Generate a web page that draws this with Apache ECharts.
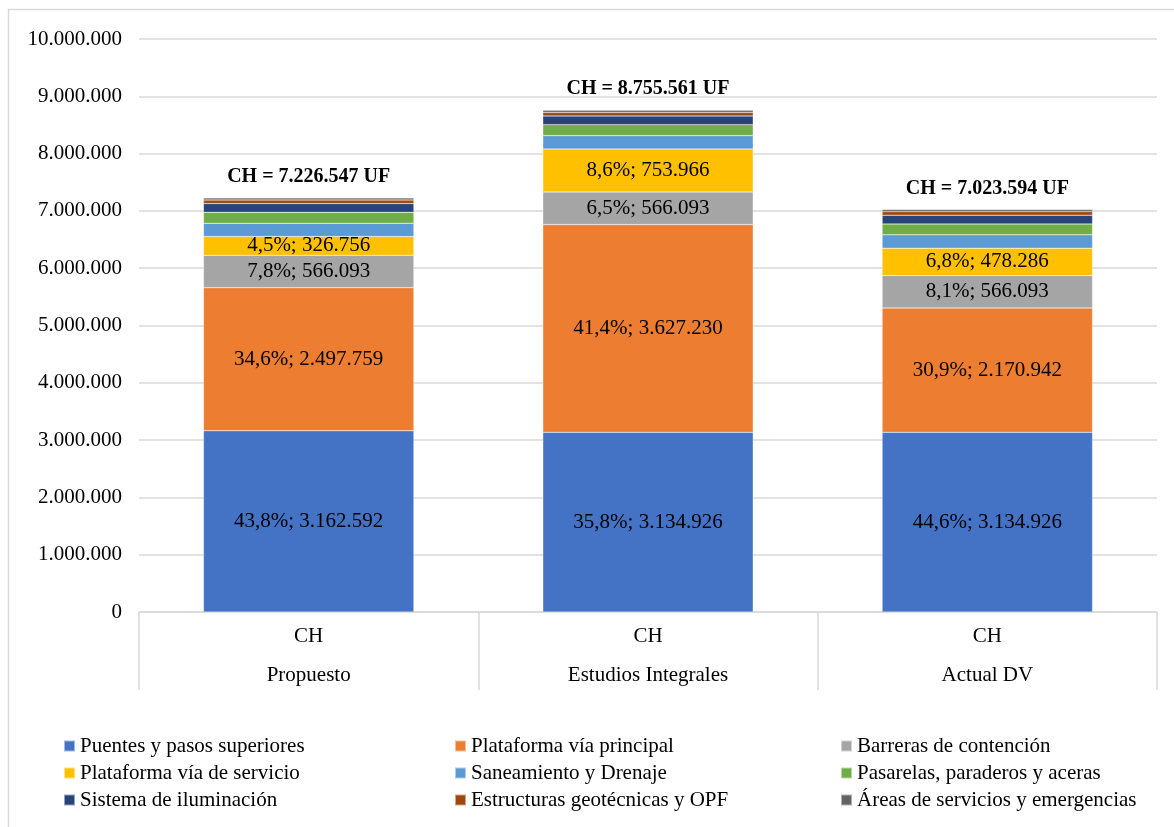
<!DOCTYPE html>
<html lang="es">
<head>
    <meta charset="UTF-8">
    <title>Costo por alternativa</title>
    <style>
        html, body { margin: 0; padding: 0; background: #fff; }
        #main { width: 1174px; height: 827px; }
    </style>
    <script src="https://cdn.jsdelivr.net/npm/echarts@6/dist/echarts.min.js"></script>
</head>
<body>
<div id="main"></div>
<script type="text/javascript">
    // categorias (dos niveles: CH / alternativa)
    var grupos = ['Propuesto', 'Estudios Integrales', 'Actual DV'];
    var totales = [7226547, 8755561, 7023594];

    var puentes      = [3162592, 3134926, 3134926];
    var platPrincipal = [2497759, 3627230, 2170942];
    var barreras     = [566093, 566093, 566093];
    var platServicio = [326756, 753966, 478286];
    var saneamiento  = [232000, 232000, 232000];
    var pasarelas    = [190000, 190000, 190000];
    var iluminacion  = [153000, 153000, 153000];
    var geotecnicas  = [62000, 62000, 62000];
    var areas        = [36347, 36347, 36347];

    var yTicks = [0, 1000000, 2000000, 3000000, 4000000, 5000000, 6000000, 7000000, 8000000, 9000000, 10000000];

    var fuente = '"Liberation Serif", "Times New Roman", serif';

    function miles(n) {
        return String(Math.round(n)).replace(/\B(?=(\d{3})+(?!\d))/g, '.');
    }

    function etiqueta(p) {
        var pct = (p.value / totales[p.dataIndex] * 100).toFixed(1).replace('.', ',');
        return pct + '%; ' + miles(p.value);
    }

    var myChart = echarts.init(document.getElementById('main'));

    function serie(nombre, datos, color, conEtiqueta) {
        return {
            name: nombre,
            type: 'bar',
            stack: 'total',
            barWidth: '62%',
            data: datos,
            itemStyle: { color: color, borderColor: 'rgba(255,255,255,0.5)', borderWidth: 0.5 },
            label: {
                show: conEtiqueta,
                position: 'inside',
                formatter: etiqueta,
                fontFamily: fuente,
                fontSize: 21,
                color: '#000'
            },
            emphasis: { disabled: true }
        };
    }

    var series = [
        serie('Puentes y pasos superiores', puentes, '#4472C4', true),
        serie('Plataforma vía principal', platPrincipal, '#ED7D31', true),
        serie('Barreras de contención', barreras, '#A5A5A5', true),
        serie('Plataforma vía de servicio', platServicio, '#FFC000', true),
        serie('Saneamiento y Drenaje', saneamiento, '#5B9BD5', false),
        serie('Pasarelas, paraderos y aceras', pasarelas, '#70AD47', false),
        serie('Sistema de iluminación', iluminacion, '#264478', false),
        serie('Estructuras geotécnicas y OPF', geotecnicas, '#9E480E', false),
        serie('Áreas de servicios y emergencias', areas, '#636363', false)
    ];
    // total sobre cada barra
    series[8].label = {
        show: true,
        position: 'top',
        distance: 11,
        formatter: function (p) { return 'CH = ' + miles(totales[p.dataIndex]) + ' UF'; },
        fontFamily: fuente,
        fontSize: 20,
        fontWeight: 'bold',
        color: '#000'
    };

    function leyenda(left, nombres) {
        return {
            orient: 'vertical',
            left: left,
            top: 735,
            height: 92,
            padding: 0,
            itemWidth: 11,
            itemHeight: 11,
            itemGap: 5,
            icon: 'rect',
            selectedMode: false,
            textStyle: { fontFamily: fuente, fontSize: 21, lineHeight: 22, color: '#000' },
            data: nombres
        };
    }

    var option = {
        animation: false,
        backgroundColor: '#fff',
        graphic: [{
            type: 'rect',
            shape: { x: 8.5, y: 9.5, width: 1180, height: 840 },
            style: { fill: 'none', stroke: '#d9d9d9', lineWidth: 1.5 },
            silent: true
        }],
        legend: [
            leyenda(63, ['Puentes y pasos superiores', 'Plataforma vía de servicio', 'Sistema de iluminación']),
            leyenda(454, ['Plataforma vía principal', 'Saneamiento y Drenaje', 'Estructuras geotécnicas y OPF']),
            leyenda(840, ['Barreras de contención', 'Pasarelas, paraderos y aceras', 'Áreas de servicios y emergencias'])
        ],
        grid: { left: 139, right: 17, top: 39, bottom: 215 },
        xAxis: {
            type: 'category',
            data: grupos,
            axisLine: { lineStyle: { color: '#d9d9d9', width: 1.5 } },
            axisTick: { show: true, length: 78, interval: 0, lineStyle: { color: '#d9d9d9', width: 1.5 } },
            axisLabel: {
                interval: 0,
                margin: 5,
                formatter: function (v) { return 'CH\n' + v; },
                fontFamily: fuente,
                fontSize: 21,
                lineHeight: 39,
                color: '#000'
            }
        },
        yAxis: {
            type: 'value',
            min: yTicks[0],
            max: yTicks[yTicks.length - 1],
            interval: 1000000,
            axisLine: { show: false },
            axisTick: { show: false },
            splitLine: { lineStyle: { color: '#d9d9d9', width: 1.5 } },
            axisLabel: {
                margin: 17,
                formatter: function (v) { return miles(v); },
                fontFamily: fuente,
                fontSize: 21,
                color: '#000'
            }
        },
        series: series
    };

    myChart.setOption(option);
</script>
</body>
</html>
